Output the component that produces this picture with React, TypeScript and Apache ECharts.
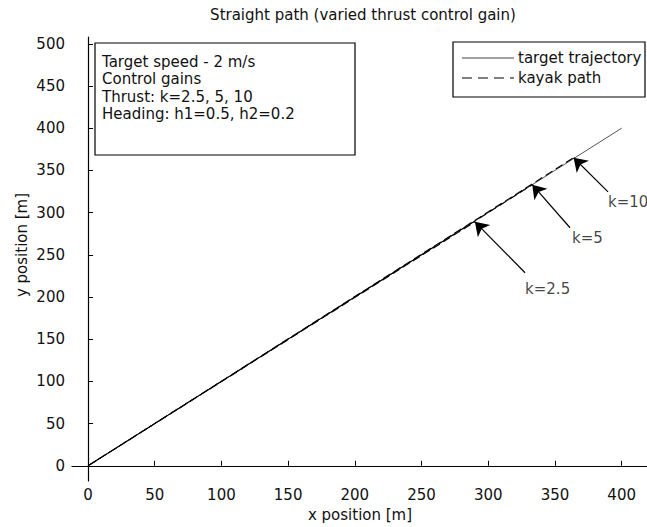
import React, { useEffect, useRef } from "react";
import * as echarts from "echarts";

// ---- data ----
const xTicks = [0, 50, 100, 150, 200, 250, 300, 350, 400];
const yTicks = [0, 50, 100, 150, 200, 250, 300, 350, 400, 450, 500];
const targetX = [0, 400];
const targetY = [0, 400];
const gainLabels = ["k=2.5", "k=5", "k=10"];
const kayakEndX = [290, 333, 364];
const kayakEndY = [289, 333, 365];
const arrowTailX = [327.6, 361.3, 389.8];
const arrowTailY = [228.7, 282, 324.6];
const gainLabelX = [327.6, 362.8, 389.8];
const gainLabelY = [210, 270, 312.8];
const infoLines = [
  "Target speed - 2 m/s",
  "Control gains",
  "Thrust: k=2.5, 5, 10",
  "Heading: h1=0.5, h2=0.2",
];
const legendNames = ["target trajectory", "kayak path"];

const FONT = "DejaVu Sans";
const INK = "#111";

export default function App() {
  const ref = useRef<HTMLDivElement>(null);
  useEffect(() => {
    if (!ref.current) return;
    const chart = echarts.init(ref.current, null, { renderer: "svg" });

    const series: any[] = [
      {
        name: legendNames[0],
        type: "line",
        data: targetX.map((x, i) => [x, targetY[i]]),
        showSymbol: false,
        symbol: "none",
        lineStyle: { color: "#555", width: 1 },
        z: 2,
      },
    ];
    kayakEndX.forEach((ex, i) => {
      series.push({
        name: legendNames[1] + " " + gainLabels[i],
        type: "line",
        data: [
          [0, 0],
          [ex, kayakEndY[i]],
        ],
        showSymbol: false,
        symbol: "none",
        lineStyle: { color: "#000", width: 1.1, type: [8, 4], dashOffset: i * 5 },
        z: 3,
      });
    });
    series.push({
      type: "lines",
      coordinateSystem: "cartesian2d",
      symbol: ["none", "arrow"],
      symbolSize: [0, 13],
      lineStyle: { color: "#000", width: 1.2, opacity: 1 },
      data: arrowTailX.map((tx, i) => ({
        coords: [
          [tx, arrowTailY[i]],
          [kayakEndX[i], kayakEndY[i]],
        ],
      })),
      z: 4,
    });
    series.push({
      type: "scatter",
      symbolSize: 0,
      data: gainLabels.map((t, i) => ({ value: [gainLabelX[i], gainLabelY[i]], name: t })),
      label: {
        show: true,
        position: "right",
        distance: 0,
        formatter: (p: any) => p.name,
        color: INK,
        fontFamily: FONT,
        fontSize: 15,
      },
      z: 5,
    });

    const textStyle = { fill: INK, font: `15px "${FONT}"` };

    chart.setOption({
      animation: false,
      backgroundColor: "#fff",
      grid: { left: 72, right: 0, top: 37, bottom: 46, containLabel: false },
      xAxis: {
        type: "value",
        min: -12,
        max: 419,
        axisLine: { show: true, lineStyle: { color: "#000", width: 1.2 } },
        axisTick: { show: true, inside: true, length: 5, lineStyle: { color: "#000" }, customValues: xTicks },
        axisLabel: { color: INK, fontFamily: FONT, fontSize: 15, margin: 6, customValues: xTicks },
        splitLine: { show: false },
      },
      yAxis: {
        type: "value",
        min: -18,
        max: 508,
        axisLine: { show: true, lineStyle: { color: "#000", width: 1.2 } },
        axisTick: { show: true, inside: true, length: 5, lineStyle: { color: "#000" }, customValues: yTicks },
        axisLabel: { color: INK, fontFamily: FONT, fontSize: 15, margin: 7, customValues: yTicks },
        splitLine: { show: false },
      },
      series,
      graphic: [
        {
          type: "text",
          x: 363,
          y: 15,
          style: { ...textStyle, text: "Straight path (varied thrust control gain)", align: "center", verticalAlign: "middle" },
        },
        {
          type: "text",
          x: 360,
          y: 515,
          style: { ...textStyle, text: "x position [m]", align: "center", verticalAlign: "middle" },
        },
        {
          type: "text",
          x: 22,
          y: 245,
          rotation: Math.PI / 2,
          style: { ...textStyle, text: "y position [m]", align: "center", verticalAlign: "middle" },
        },
        {
          type: "rect",
          shape: { x: 95, y: 43, width: 260, height: 112 },
          style: { fill: "#fff", stroke: "#000", lineWidth: 1.2 },
          z: 10,
        },
        ...infoLines.map((t, i) => ({
          type: "text",
          x: 102,
          y: 62 + i * 17.3,
          z: 11,
          style: { ...textStyle, text: t, align: "left", verticalAlign: "middle" },
        })),
        {
          type: "rect",
          shape: { x: 453, y: 42, width: 192, height: 55 },
          style: { fill: "#fff", stroke: "#000", lineWidth: 1.2 },
          z: 10,
        },
        {
          type: "line",
          shape: { x1: 462, y1: 58, x2: 514, y2: 58 },
          style: { stroke: "#444", lineWidth: 1 },
          z: 11,
        },
        {
          type: "line",
          shape: { x1: 462, y1: 78, x2: 514, y2: 78 },
          style: { stroke: "#000", lineWidth: 1.1, lineDash: [10, 6] },
          z: 11,
        },
        {
          type: "text",
          x: 518,
          y: 58,
          z: 11,
          style: { ...textStyle, text: legendNames[0], align: "left", verticalAlign: "middle" },
        },
        {
          type: "text",
          x: 518,
          y: 78,
          z: 11,
          style: { ...textStyle, text: legendNames[1], align: "left", verticalAlign: "middle" },
        },
      ],
    });
    return () => chart.dispose();
  }, []);
  return (
    <div
      ref={ref}
      style={{ position: "fixed", left: 0, top: 0, width: 647, height: 527, background: "#fff" }}
    />
  );
}
